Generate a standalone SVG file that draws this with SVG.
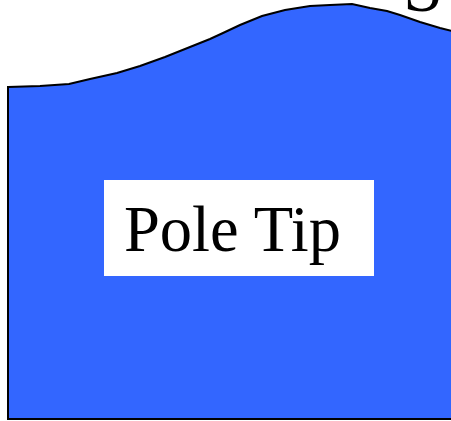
<svg xmlns="http://www.w3.org/2000/svg" width="451" height="421" viewBox="0 0 451 421">
<style>
.t{font-family:"Liberation Serif","Times New Roman",serif;fill:#000}
</style>
<rect width="451" height="421" fill="#fff"/>
<g id="poletip">
<path d="M8,87 L40,86 L69,84 L90,79 L117,73 L140,66 L165,57 L190,47 L210,39 L223,33 L240,25 L262,16 L285,10 L310,6 L330,5 L352,4 L370,8 L387,11 L400,15 L420,22 L440,28 L452,31 L452,419 L8,419 Z" fill="#3366ff" stroke="#000" stroke-width="2"/>
<rect x="104" y="180" width="270" height="96" fill="#fff"/>
<text class="t" x="124" y="251" font-size="64.5">Pole Tip</text>
</g>
<text class="t" x="403" y="11" font-size="72">S</text>
</svg>
